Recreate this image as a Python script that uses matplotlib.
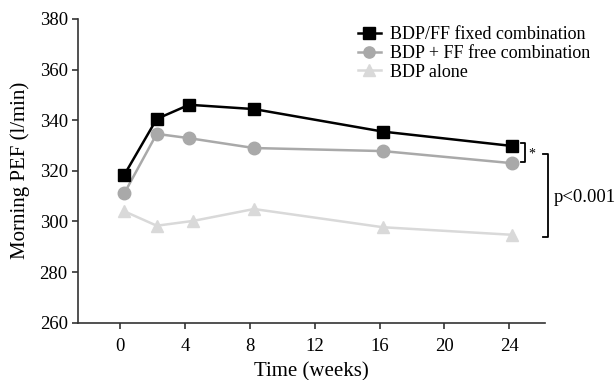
import numpy as np
import matplotlib
matplotlib.use("Agg")
import matplotlib.pyplot as plt

plt.rcParams['font.family'] = ['Liberation Serif', 'DejaVu Serif']

# data
weeks = [0.25, 2.25, 4.25, 8.25, 16.2, 24.2]
weeks_alone = [0.25, 2.25, 4.5, 8.25, 16.2, 24.2]
fixed_comb = [318.4, 340.5, 346.1, 344.4, 335.5, 329.8]
free_comb = [311.1, 334.6, 332.9, 329.0, 327.8, 323.0]
bdp_alone = [304.0, 298.3, 300.2, 304.9, 297.7, 294.7]

labels = ["BDP/FF fixed combination", "BDP + FF free combination", "BDP alone"]
xticks = [0, 4, 8, 12, 16, 20, 24]
yticks = [260, 280, 300, 320, 340, 360, 380]

fig = plt.figure(figsize=(6.15, 3.8), dpi=100)
ax = fig.add_axes([0.127, 0.151, 0.759, 0.799])

ax.plot(weeks, fixed_comb, color="black", lw=1.8, marker="s", ms=9, label=labels[0], zorder=3)
ax.plot(weeks, free_comb, color="#a9a9a9", lw=1.8, marker="o", ms=9, label=labels[1], zorder=2)
ax.plot(weeks_alone, bdp_alone, color="#d9d9d9", lw=1.8, marker="^", ms=9, label=labels[2], zorder=1)

ax.set_xlim(-2.6, 26.2)
ax.set_ylim(260, 380)
ax.set_xticks(xticks)
ax.set_yticks(yticks)
ax.tick_params(labelsize=13.5, length=4, width=1.2, color="#333333")
ax.tick_params(axis="x", pad=7)
for s in ["top", "right"]:
    ax.spines[s].set_visible(False)
for s in ["left", "bottom"]:
    ax.spines[s].set_linewidth(1.2)
    ax.spines[s].set_color("#333333")

ax.set_xlabel("Time (weeks)", fontsize=15, labelpad=5)
ax.set_ylabel("Morning PEF (l/min)", fontsize=15, labelpad=7)

# significance brackets
ax.plot([24.7, 25.0, 25.0, 24.7], [330.9, 330.9, 323.4, 323.4], color="black", lw=1.3, clip_on=False)
ax.text(25.4, 326.6, "*", fontsize=10, ha="center", va="center")
ax.plot([26.1, 26.4, 26.4, 26.1], [326.7, 326.7, 293.8, 293.8], color="black", lw=1.3, clip_on=False)
ax.text(26.75, 309.5, "p<0.001", fontsize=13.5, ha="left", va="center")

ax.legend(loc="upper left", bbox_to_anchor=(0.567, 0.955), bbox_transform=fig.transFigure,
          frameon=False, fontsize=13, handlelength=1.3, handletextpad=0.5,
          labelspacing=0.1, borderpad=0, markerscale=0.9)

fig.savefig("out.png", dpi=100)
